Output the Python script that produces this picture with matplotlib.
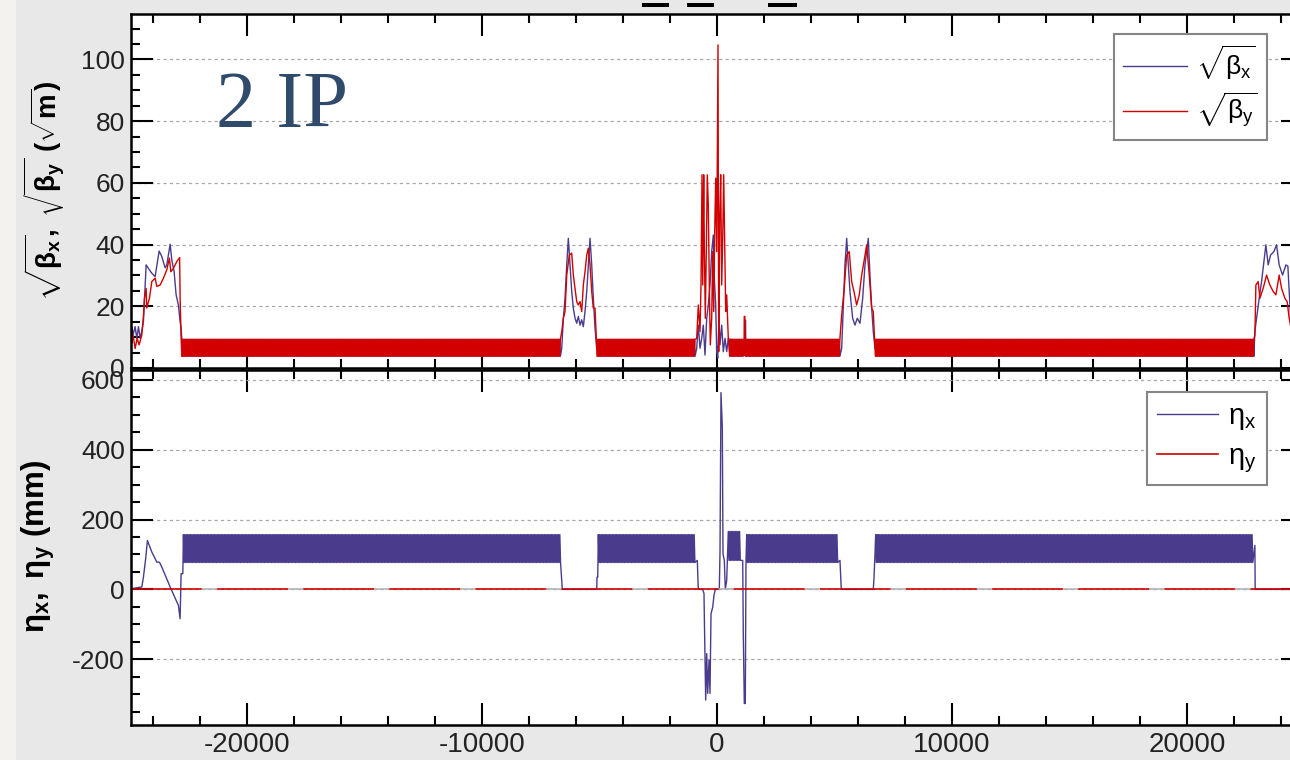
import numpy as np
import matplotlib
matplotlib.use("Agg")
import matplotlib.pyplot as plt
from matplotlib.patches import Rectangle
from matplotlib.ticker import MultipleLocator

plt.rcParams["font.family"] = ["Liberation Sans", "DejaVu Sans"]
plt.rcParams["mathtext.fontset"] = "custom"
plt.rcParams["mathtext.rm"] = "Liberation Sans"
plt.rcParams["mathtext.it"] = "Liberation Sans:italic"
plt.rcParams["mathtext.bf"] = "Liberation Sans:bold"
plt.rcParams["mathtext.default"] = "regular"
plt.rcParams["axes.unicode_minus"] = False
plt.rcParams["lines.scale_dashes"] = False

# ---------------------------------------------------------------- optics data
S_HALF = 24940.0          # half ring length (m)

# periodic FODO arcs: one cell = [focusing, defocusing] sample
FODO_CELL = 60.0
SQRT_BETA_MAX = 9.3
SQRT_BETA_MIN = 3.8
beta_arc_start = [-22777, -5105, 540, 1240, 6740]
beta_arc_end = [-6620, -880, 1140, 5290, 22880]

eta_arc_start = [-22709, -5051, 481, 1264, 6753]
eta_arc_end = [-6608, -864, 1051, 5204, 22850]
eta_arc_max = [157, 157, 166, 157, 157]
eta_arc_min = [77, 77, 83, 77, 77]

# straight sections / interaction regions, sqrt(beta_x) in sqrt(m)
ins_s_bx = [
    -24940, -24905, -24850, -24765, -24693, -24622, -24550, -24480, -24411,
    -24296, -24156, -24054, -23913, -23743, -23628, -23488, -23416, -23275,
    -23203, -23105, -23020, -22922, -22850, -22807,
    -6608, -6540, -6468, -6395, -6327, -6255, -6183, -6115, -6042, -5970,
    -5902, -5829, -5757, -5689, -5617, -5544, -5476, -5404, -5332, -5264,
    -5191, -5119,
    -864, -796, -723, -651, -583, -511, -438, -370, -298, -226, -157, -115,
    -55, -13, 30, 85, 128, 200, 268, 340, 413, 481,
    1149, 1175, 1195, 1215, 1230,
    5306, 5374, 5446, 5519, 5587, 5659, 5774, 5872, 5970, 6085, 6200, 6298,
    6438, 6510, 6583, 6651, 6723,
    22892, 22965, 23076, 23177, 23275, 23360, 23458, 23560, 23701, 23815,
    23926, 24071, 24212, 24296, 24420, 24940,
]
ins_bx = [
    12.0, 13.4, 10.7, 13.4, 9.6, 13.4, 9.6, 11.9, 15.1,
    33.4, 31.8, 30.7, 29.6, 37.9, 36.1, 32.5, 33.4, 40.1,
    35.0, 31.2, 23.7, 20.4, 15.0, 12.9,
    6.4, 16.1, 22.6, 33.4, 42.0, 33.4, 24.8, 19.4, 16.1, 14.5,
    16.7, 13.9, 15.6, 13.4, 18.3, 24.8, 33.4, 42.0, 33.4, 22.6,
    12.9, 6.4,
    6.4, 13.9, 6.4, 9.6, 13.9, 4.2, 16.1, 20.4, 26.9, 37.7, 43.1, 29.1,
    20.4, 5.3, 3.2, 16.1, 7.5, 13.9, 5.3, 9.6, 5.3, 9.6,
    9.0, 5.0, 15.5, 15.5, 4.0,
    6.4, 19.4, 33.4, 42.0, 33.4, 24.8, 16.1, 13.9, 16.1, 14.5, 22.6, 33.4,
    42.0, 30.1, 19.4, 11.8, 6.4,
    11.9, 16.1, 22.6, 28.0, 34.5, 39.9, 33.4, 36.6, 37.7, 39.9,
    33.4, 30.1, 33.4, 33.0, 15.0, 12.0,
]

# sqrt(beta_y) in sqrt(m)
ins_s_by = [
    -24940, -24905, -24850, -24765, -24680, -24595, -24480, -24411, -24368,
    -24296, -24270, -24156, -24054, -23913, -23840, -23700, -23560, -23416,
    -23305, -23245, -23134, -22990, -22870, -22850, -22807,
    -6608, -6540, -6468, -6395, -6285, -6183, -6115, -6042, -5970, -5902,
    -5829, -5757, -5689, -5617, -5544, -5476, -5404, -5332, -5264, -5191,
    -5119,
    -864, -796, -723, -681, -638, -608, -566, -540, -498, -455, -413, -370,
    -328, -285, -226, -183, -140, -98, -55, -13, 43, 72, 115, 157, 200, 243,
    285, 328, 370, 413, 481,
    1149, 1160, 1185, 1200, 1220,
    5306, 5404, 5519, 5629, 5732, 5829, 5944, 6055, 6157, 6255, 6370, 6480,
    6583, 6651, 6723,
    22892, 22935, 23033, 23105, 23245, 23390, 23530, 23671, 23786, 23926,
    24028, 24169, 24267, 24352, 24500, 24940,
]
ins_by = [
    9.0, 8.0, 10.7, 6.3, 9.6, 7.5, 10.7, 16.7, 22.6,
    25.8, 19.4, 22.6, 28.0, 29.1, 26.4, 26.9, 29.1, 31.8,
    35.6, 31.2, 32.3, 34.5, 35.8, 22.6, 9.6,
    11.8, 16.1, 18.3, 30.1, 36.6, 37.2, 30.1, 25.8, 21.5, 20.4,
    21.5, 18.3, 26.9, 31.2, 36.6, 38.8, 33.4, 24.8, 19.4, 19.4,
    6.4,
    9.6, 20.4, 11.8, 26.9, 62.6, 26.9, 62.6, 39.9, 16.1, 37.7, 62.6, 52.8,
    26.9, 7.5, 16.1, 37.7, 18.3, 44.2, 61.5, 37.7, 104.7, 5.3, 48.5, 62.6,
    26.9, 42.0, 62.6, 41.0, 18.3, 23.7, 9.6,
    4.0, 16.7, 16.7, 9.3, 3.8,
    17.2, 24.8, 36.6, 37.7, 28.0, 24.8, 20.4, 23.7, 30.1, 34.5, 39.9, 30.1,
    19.4, 18.3, 6.0,
    10.7, 26.9, 28.0, 22.6, 25.8, 30.1, 26.9, 24.8, 23.7, 30.1,
    25.8, 22.6, 21.5, 16.1, 10.0, 8.0,
]

# horizontal dispersion outside the regular arcs (mm)
ins_s_etax = [
    -24940, -24905, -24480, -24411, -24309, -24241, -24054, -23841, -23730,
    -23628, -23275, -22922, -22850, -22807, -22735,
    -6583, -5119, -5106, -5076,
    -838, -796, -608, -553, -540, -481, -438, -396, -340, -298, -255, -183,
    -128, -72, 98, 128, 170, 226, 255, 311, 353, 413,
    1094, 1119, 1162, 1204, 1234,
    5234, 5289, 6651, 6680, 6723,
    22892, 22905, 24940,
]
ins_etax = [
    0, 2, 7, 35, 92, 140, 107, 78, 78,
    64, 7, -46, -84, 45, 45,
    0, 0, 35, 35,
    83, 0, 0, -12, -74, -317, -184, -298, -203, -298, -70, -51,
    -17, 0, 0, 107, 564, 464, 102, 83, 0, 26,
    83, -127, -327, -327, 83,
    83, 0, 0, 30, 100,
    126, 0, 0,
]

# vertical dispersion (mm)
s_etay = [-S_HALF, S_HALF]
etay = [0.0, 0.0]


def arc_samples(starts, ends, first, second):
    """Sample each arc cell at its two quadrupoles."""
    s_out, v_out = [], []
    for a, b, hi, lo in zip(starts, ends, first, second):
        n = int((b - a) // FODO_CELL)
        base = a + FODO_CELL * np.arange(n)
        s_out.append(np.column_stack([base, base + FODO_CELL / 2]).ravel())
        v_out.append(np.tile([hi, lo], n))
    return np.concatenate(s_out), np.concatenate(v_out)


def merge(s_ins, v_ins, s_arc, v_arc):
    s = np.concatenate([np.asarray(s_ins, float), s_arc])
    v = np.concatenate([np.asarray(v_ins, float), v_arc])
    order = np.argsort(s, kind="stable")
    return s[order], v[order]


nb = len(beta_arc_start)
s_bx, bx = merge(ins_s_bx, ins_bx,
                 *arc_samples(beta_arc_start, beta_arc_end,
                              [SQRT_BETA_MAX] * nb, [SQRT_BETA_MIN] * nb))
s_by, by = merge(ins_s_by, ins_by,
                 *arc_samples(beta_arc_start, beta_arc_end,
                              [SQRT_BETA_MIN] * nb, [SQRT_BETA_MAX] * nb))
s_ex, ex = merge(ins_s_etax, ins_etax,
                 *arc_samples(eta_arc_start, eta_arc_end,
                              eta_arc_max, eta_arc_min))

# ---------------------------------------------------------------- figure
W, H = 1290, 760
fig = plt.figure(figsize=(W / 100, H / 100), dpi=100, facecolor="#e8e8e8")
fig.add_artist(Rectangle((0, 0), 16 / W, 1, transform=fig.transFigure,
                         facecolor="#f4f2ee", edgecolor="none", zorder=-5))

left_px, right_px = 131, 1303
ax1 = fig.add_axes([left_px / W, 1 - 368 / H, (right_px - left_px) / W, 354 / H])
ax2 = fig.add_axes([left_px / W, 1 - 725 / H, (right_px - left_px) / W, 355 / H])

BLUE = "#4b3b8c"
RED = "#d20000"

l_bx, = ax1.plot(s_bx, bx, color=BLUE, lw=1.0, label=r"$\sqrt{\beta_x}$")
l_by, = ax1.plot(s_by, by, color=RED, lw=1.0, label=r"$\sqrt{\beta_y}$")
l_ex, = ax2.plot(s_ex, ex, color=BLUE, lw=1.0, label=r"$\eta_x$")
l_ey, = ax2.plot(s_etay, etay, color=RED, lw=1.2, label=r"$\eta_y$",
                 dashes=(51, 11), gapcolor="#b4b4b4")

ax1.set_ylim(0, 114.7)
ax2.set_ylim(-388.6, 628.6)
for ax, ymaj, ymin in ((ax1, 20, 5), (ax2, 200, 50)):
    ax.set_xlim(-S_HALF, S_HALF)
    ax.set_facecolor("white")
    ax.xaxis.set_major_locator(MultipleLocator(10000))
    ax.xaxis.set_minor_locator(MultipleLocator(2000))
    ax.yaxis.set_major_locator(MultipleLocator(ymaj))
    ax.yaxis.set_minor_locator(MultipleLocator(ymin))
    ax.tick_params(which="both", direction="in", top=True, right=True,
                   width=1.5, colors="black", labelcolor="#222222")
    ax.tick_params(which="major", length=15.8, labelsize=19, pad=4.5)
    ax.tick_params(which="minor", length=6.5)
    ax.tick_params(axis="x", labelsize=20, pad=5)
    ax.grid(axis="y", which="major", color="#a8a8a8", lw=0.9,
            linestyle=(0, (2.3, 2.3)))
    ax.set_axisbelow(True)
    for sp in ax.spines.values():
        sp.set_linewidth(1.8)
ax1.tick_params(labelbottom=False)

leg_kw = dict(frameon=True, fancybox=False, framealpha=1,
              edgecolor="#858585", borderaxespad=0,
              handletextpad=0.35, borderpad=0.35,
              bbox_transform=fig.transFigure, loc="upper right")
lg1 = ax1.legend(handles=[l_bx, l_by], bbox_to_anchor=(1267 / W, 1 - 34 / H),
                 fontsize=19, labelspacing=0.35, handlelength=2.4, **leg_kw)
lg2 = ax2.legend(handles=[l_ex, l_ey], bbox_to_anchor=(1267 / W, 1 - 392 / H),
                 fontsize=21, labelspacing=0.35, handlelength=2.1, **leg_kw)
for lg in (lg1, lg2):
    lg.get_frame().set_linewidth(1.5)
lg2.get_lines()[1].set_linestyle("-")

fig.text(44 / W, 1 - 191 / H,
         r"$\mathbf{\sqrt{\beta_x},\ \sqrt{\beta_y}\ (\sqrt{m})}$",
         rotation=90, ha="center", va="center", fontsize=20)
fig.text(38 / W, 1 - 547 / H, r"$\mathbf{\eta_x,\ \eta_y\ (mm)}$",
         rotation=90, ha="center", va="center", fontsize=22.5)

fig.text(216 / W, 1 - 127 / H, "2 IP", family="Liberation Serif",
         fontsize=58, color="#304a6b", ha="left", va="baseline")

# clipped remains of the title strip
for x0, x1 in ((641.7, 669.3), (686.7, 714.3), (768.3, 796.7)):
    fig.add_artist(Rectangle((x0 / W, 1 - 7.3 / H), (x1 - x0) / W, 4 / H,
                             transform=fig.transFigure, facecolor="black",
                             edgecolor="none"))

fig.savefig("out.png", dpi=100, facecolor=fig.get_facecolor())
